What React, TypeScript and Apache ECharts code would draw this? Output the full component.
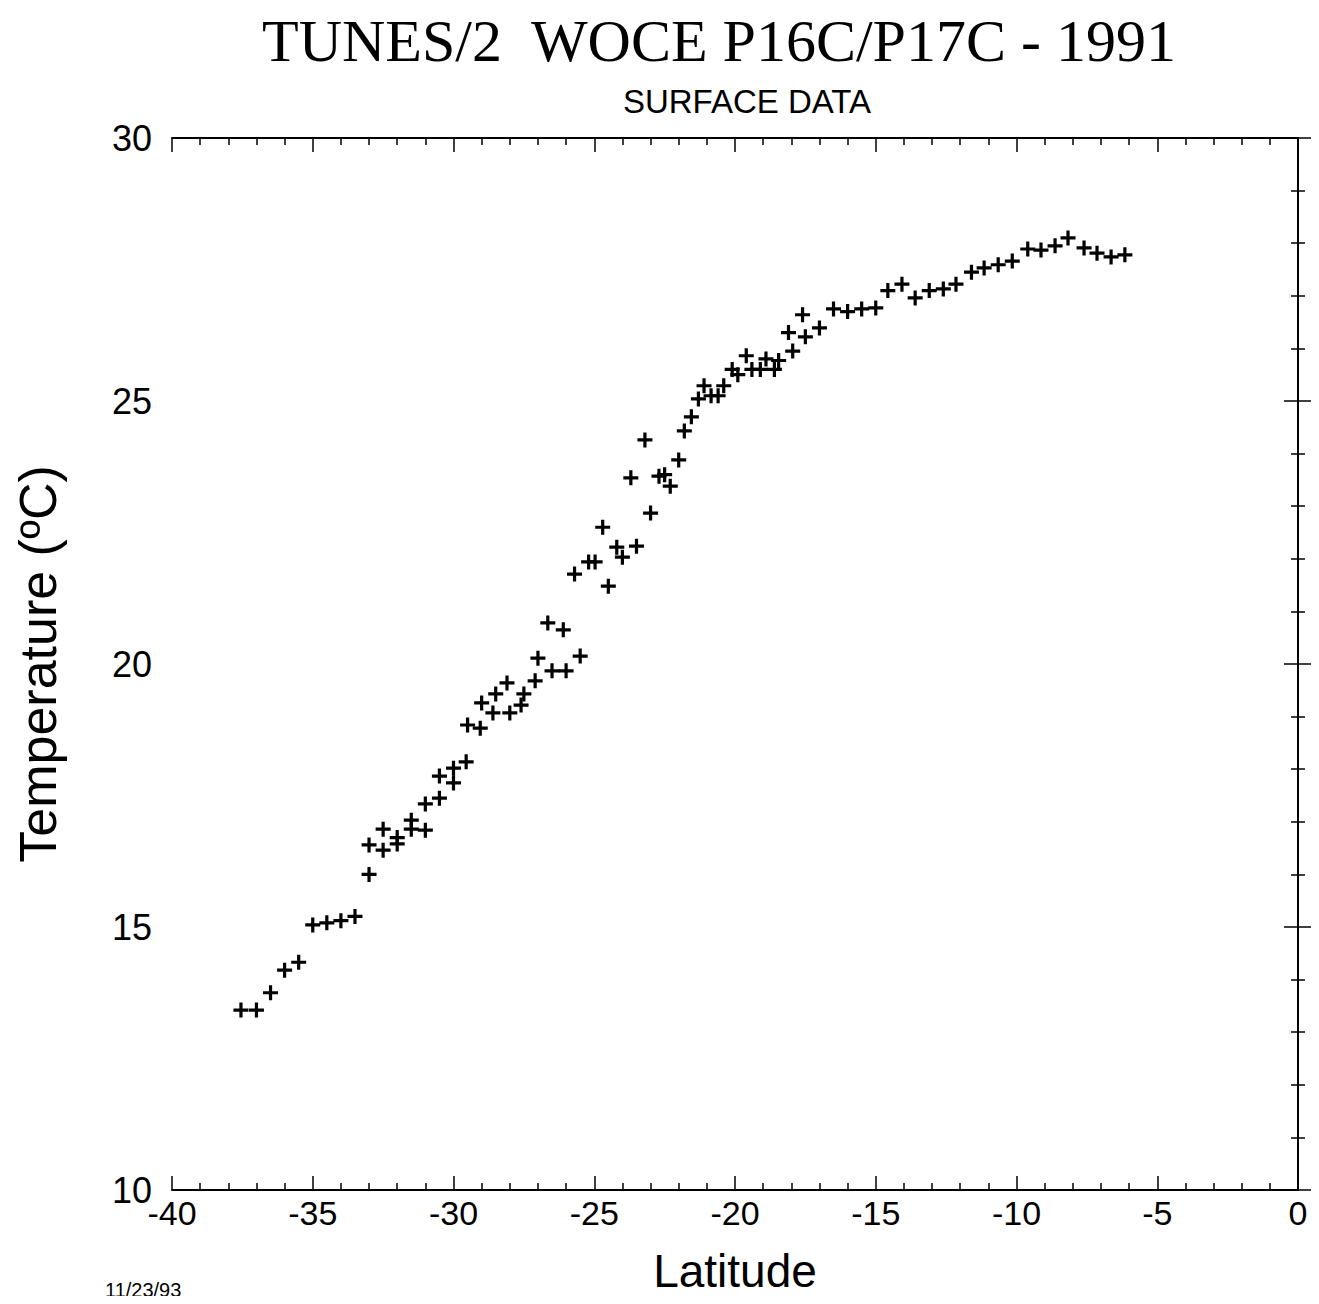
import React, { useEffect, useRef } from "react";
import * as echarts from "echarts";

const latitudes: number[] = [
  -37.55, -37.0, -36.5, -36.0, -35.5, -35.0, -34.5, -34.0, -33.5, -33.0, -33.0,
  -32.5, -32.5, -32.0, -32.0, -31.5, -31.5, -31.0, -31.0, -30.5, -30.5, -30.0, -30.0,
  -29.55, -29.5, -29.05, -29.0, -28.5, -28.6, -28.1, -28.0, -27.6, -27.5, -27.1, -27.0,
  -26.65, -26.1, -26.5, -26.0, -25.5, -25.7, -24.5, -25.2, -24.97, -24.2, -24.0, -23.5,
  -24.7, -23.0, -23.7, -22.7, -22.5, -22.3, -22.0, -23.2, -21.8, -21.55, -21.3, -21.1,
  -20.85, -20.6, -20.4, -20.1, -19.9, -19.6, -19.4, -19.1, -18.9, -18.6, -18.45, -17.95,
  -18.1, -17.6, -17.5, -17.0, -16.5, -16.0, -15.5, -15.0, -14.57, -14.07, -13.6, -13.1,
  -12.6, -12.15, -11.6, -11.15, -10.65, -10.15, -9.6, -9.13, -8.63, -8.17, -7.6, -7.14,
  -6.64, -6.15,
];
const temperatures: number[] = [
  13.42, 13.42, 13.75, 14.18, 14.33, 15.04, 15.08, 15.12, 15.2, 16.0, 16.56,
  16.46, 16.86, 16.58, 16.7, 17.03, 16.86, 16.84, 17.34, 17.45, 17.87, 17.74, 18.02,
  18.14, 18.84, 18.78, 19.26, 19.43, 19.07, 19.64, 19.07, 19.22, 19.43, 19.68, 20.11,
  20.78, 20.65, 19.87, 19.87, 20.15, 21.71, 21.48, 21.94, 21.94, 22.22, 22.03, 22.24,
  22.6, 22.87, 23.54, 23.57, 23.6, 23.38, 23.88, 24.26, 24.43, 24.7, 25.04, 25.29,
  25.1, 25.1, 25.29, 25.6, 25.5, 25.86, 25.6, 25.6, 25.8, 25.6, 25.77, 25.95,
  26.3, 26.64, 26.22, 26.39, 26.75, 26.7, 26.75, 26.77, 27.1, 27.22, 26.96, 27.1,
  27.13, 27.22, 27.45, 27.53, 27.59, 27.66, 27.89, 27.87, 27.95, 28.1, 27.91, 27.81,
  27.74, 27.78,
];

const xTickLabels: string[] = ["-40", "-35", "-30", "-25", "-20", "-15", "-10", "-5", "0"];
const yTickLabels: string[] = ["10", "15", "20", "25", "30"];

const titleText = "TUNES/2  WOCE P16C/P17C - 1991";
const subtitleText = "SURFACE DATA";
const dateText = "11/23/93";

const PLUS = "path://M-7,-1.5H-1.5V-7H1.5V-1.5H7V1.5H1.5V7H-1.5V1.5H-7Z";

export default function App() {
  const ref = useRef<HTMLDivElement>(null);
  useEffect(() => {
    if (!ref.current) return;
    const chart = echarts.init(ref.current, null, { renderer: "svg" });
    const data = latitudes.map((x, i) => [x, temperatures[i]]);
    const axisLine = { show: true, lineStyle: { color: "#000", width: 2 } };
    const sans = "'Liberation Sans', Arial, sans-serif";
    const baseX = {
      type: "value" as const,
      min: -40,
      max: 0,
      interval: 5,
      splitLine: { show: false },
      axisLine,
      axisTick: { show: true, inside: true, length: 14, lineStyle: { color: "#000", width: 1.5 } },
      minorTick: { show: true, splitNumber: 5, length: 7, lineStyle: { color: "#000", width: 1.5 } },
    };
    const baseY = {
      type: "value" as const,
      min: 10,
      max: 30,
      interval: 5,
      splitLine: { show: false },
      axisLine,
      axisTick: { show: true, inside: true, length: 14, lineStyle: { color: "#000", width: 1.5 } },
      minorTick: { show: true, splitNumber: 5, length: 7, lineStyle: { color: "#000", width: 1.5 } },
    };
    chart.setOption({
      animation: false,
      backgroundColor: "#fff",
      grid: { left: 172, right: 21, top: 138, bottom: 114, containLabel: false },
      title: [
        {
          text: titleText,
          left: 714,
          top: 6,
          textAlign: "center",
          textStyle: { fontFamily: "'Liberation Serif', 'DejaVu Serif', serif", fontSize: 60, fontWeight: "normal", color: "#000" },
        },
        {
          text: subtitleText,
          left: 742,
          top: 80,
          textAlign: "center",
          textStyle: { fontFamily: sans, fontSize: 33, fontWeight: "normal", color: "#000" },
        },
      ],
      xAxis: [
        {
          ...baseX,
          position: "bottom",
          name: "Latitude",
          nameLocation: "middle",
          nameGap: 58,
          nameTextStyle: { fontFamily: sans, fontSize: 46, color: "#000" },
          axisLabel: {
            show: true,
            margin: 6,
            fontFamily: sans,
            fontSize: 34,
            color: "#000",
            formatter: (v: number) => xTickLabels[Math.round((v + 40) / 5)] ?? String(v),
          },
        },
        { ...baseX, position: "top", axisLabel: { show: false }, name: "" },
      ],
      yAxis: [
        {
          ...baseY,
          position: "left",
          name: "Temperature (ºC)",
          nameLocation: "middle",
          nameGap: 108,
          nameRotate: 90,
          nameTextStyle: { fontFamily: sans, fontSize: 52, color: "#000" },
          axisLabel: {
            show: true,
            margin: 20,
            fontFamily: sans,
            fontSize: 36,
            color: "#000",
            formatter: (v: number) => yTickLabels[Math.round((v - 10) / 5)] ?? String(v),
          },
        },
        { ...baseY, position: "right", axisLabel: { show: false }, name: "" },
      ],
      series: [
        {
          type: "scatter",
          xAxisIndex: 0,
          yAxisIndex: 0,
          data,
          symbol: PLUS,
          symbolSize: 15,
          itemStyle: { color: "#000", opacity: 1 },
        },
      ],
      graphic: [
        {
          type: "text",
          left: 105,
          top: 1280,
          style: { text: dateText, fontFamily: sans, fontSize: 20, fill: "#000" },
        },
      ],
    });
    return () => chart.dispose();
  }, []);
  return <div ref={ref} style={{ width: 1319, height: 1304, margin: -8 }} />;
}
